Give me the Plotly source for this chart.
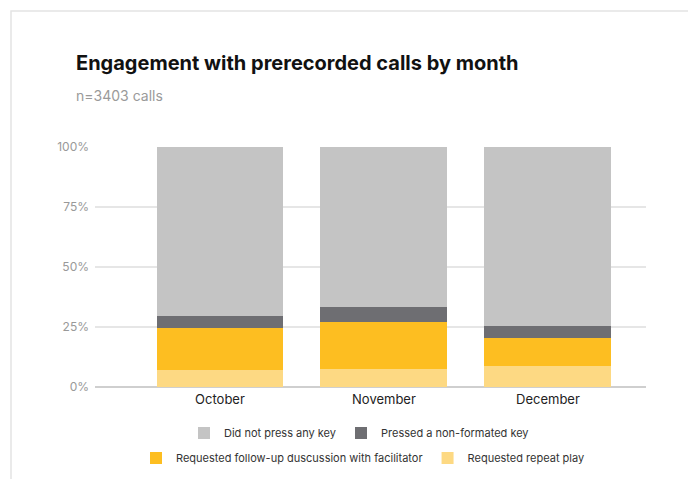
import plotly.graph_objects as go

months = ["October", "November", "December"]
repeat_play = [7.1, 7.5, 8.8]
follow_up = [17.5, 19.6, 11.7]
non_formated = [5.0, 6.2, 5.0]
no_key = [70.4, 66.7, 74.5]

names = ["Requested repeat play", "Requested follow-up duscussion with facilitator",
         "Pressed a non-formated key", "Did not press any key"]
colors = ["#fdd983", "#fdbe21", "#6e6e72", "#c4c4c4"]
series = [repeat_play, follow_up, non_formated, no_key]
legends = ["legend2", "legend2", "legend", "legend"]

fig = go.Figure()
for nm, col, vals, lg in zip(names, colors, series, legends):
    fig.add_trace(go.Bar(x=months, y=vals, name=nm, marker=dict(color=col, line=dict(width=0)),
                         width=0.774, legend=lg))

OFF = 8  # page body margin
W, H = 696 - OFF, 479 - OFF
# plot area in page coordinates
PL, PR, PT, PB = 95, 646, 147, 387
L, R, T, B = PL - OFF, W - (PR - OFF), PT - OFF, H - (PB - OFF)
pw, ph = PR - PL, PB - PT

def px_x(x):
    return (x - PL) / pw

def px_y(y):
    return (PB - y) / ph

def cx(x):
    return (x - OFF) / W

def cy(y):
    return 1 - (y - OFF) / H

FONT = "Inter"
fig.update_layout(
    width=W, height=H, margin=dict(l=L, r=R, t=T, b=B),
    paper_bgcolor="white", plot_bgcolor="white",
    barmode="stack", bargap=0,
    font=dict(family=FONT, color="#333"),
    showlegend=True,
    xaxis=dict(range=[-0.762, 2.598], showgrid=False, zeroline=False, showline=False,
               ticks="", ticklabelstandoff=3, tickfont=dict(size=13, color="#222")),
    yaxis=dict(range=[0, 100], tickvals=[0, 25, 50, 75, 100],
               ticktext=["0%", "25%", "50%", "75%", "100%"],
               showgrid=True, gridcolor="#e6e6e6", gridwidth=1.5,
               zeroline=True, zerolinecolor="#cfcfcf", zerolinewidth=1.5,
               showline=False, ticks="", ticklabelstandoff=5,
               tickfont=dict(size=12, color="#999")),
    legend=dict(orientation="h", xref="container", yref="container",
                x=cx(359), xanchor="center", y=cy(433), yanchor="middle",
                font=dict(size=11, color="#333"), traceorder="reversed", itemclick=False,
                bgcolor="rgba(0,0,0,0)"),
    legend2=dict(orientation="h", xref="container", yref="container",
                 x=cx(363), xanchor="center", y=cy(458), yanchor="middle",
                 font=dict(size=11, color="#333"), traceorder="reversed", itemclick=False,
                 bgcolor="rgba(0,0,0,0)"),
    shapes=[dict(type="rect", xref="paper", yref="paper",
                 x0=px_x(11), x1=px_x(690), y0=px_y(500), y1=px_y(11),
                 line=dict(color="#e4e4e4", width=1.5), fillcolor="rgba(0,0,0,0)", layer="below")],
    annotations=[
        dict(text="<b>Engagement with prerecorded calls by month</b>", xref="paper", yref="paper",
             x=px_x(74), y=px_y(63), xanchor="left", yanchor="middle", showarrow=False,
             font=dict(size=20, color="#111", family=FONT, weight=900)),
        dict(text="n=3403 calls", xref="paper", yref="paper",
             x=px_x(74), y=px_y(95), xanchor="left", yanchor="middle", showarrow=False,
             font=dict(size=14, color="#9a9a9a", family=FONT)),
    ],
)

fig.write_html("out.html")
